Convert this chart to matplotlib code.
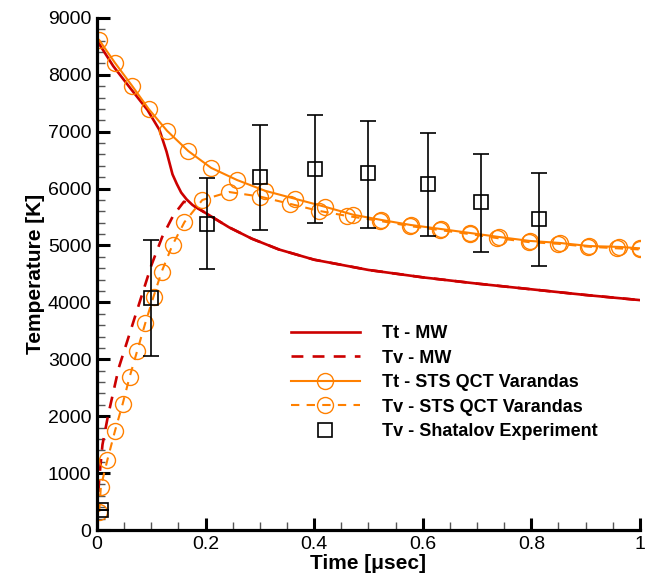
import numpy as np
import matplotlib.pyplot as plt
from matplotlib.lines import Line2D

plt.rcParams['font.family'] = ['Liberation Sans', 'DejaVu Sans']

#------------------------------------------------------------
# Tt - MW (red solid)
t_tt_mw = [0.0, 0.03, 0.06, 0.093, 0.115, 0.128, 0.139, 0.147, 0.155, 0.165, 0.176, 0.207,
           0.243, 0.285, 0.335, 0.4, 0.5, 0.6, 0.7, 0.8, 0.9, 1.0]
T_tt_mw = [8600, 8150, 7780, 7380, 7030, 6650, 6250, 6080, 5930, 5810, 5710, 5530,
           5320, 5120, 4930, 4750, 4570, 4440, 4330, 4230, 4130, 4040]

# Tv - MW (red dashed)
t_tv_mw = [0.0, 0.004, 0.01, 0.02, 0.04, 0.06, 0.08, 0.1, 0.12, 0.14, 0.16, 0.176,
           0.207, 0.243, 0.285, 0.335, 0.4, 0.5, 0.6, 0.7, 0.8, 0.9, 1.0]
T_tv_mw = [300, 900, 1500, 2000, 2850, 3450, 4050, 4650, 5150, 5520, 5770, 5710,
           5530, 5320, 5120, 4930, 4750, 4570, 4440, 4330, 4230, 4130, 4040]

# Tt - STS QCT Varandas (orange solid, circles)
t_tt_sts = [0.004, 0.033, 0.065, 0.095, 0.129, 0.168, 0.21, 0.258, 0.31, 0.365,
            0.42, 0.472, 0.523, 0.578, 0.633, 0.687, 0.74, 0.797, 0.852, 0.907, 0.962, 1.0]
T_tt_sts = [8610, 8210, 7800, 7400, 7015, 6660, 6365, 6150, 5960, 5820,
            5680, 5540, 5450, 5360, 5290, 5220, 5150, 5080, 5045, 4990, 4975, 4950]

# Tv - STS QCT Varandas (orange dashed, circles)
t_tv_sts = [0.004, 0.007, 0.019, 0.033, 0.047, 0.06, 0.074, 0.089, 0.104, 0.119, 0.139,
            0.161, 0.194, 0.243, 0.30, 0.356, 0.408, 0.46, 0.522, 0.577, 0.632, 0.687,
            0.737, 0.795, 0.849, 0.904, 0.958, 1.0]
T_tv_sts = [320, 760, 1230, 1740, 2210, 2690, 3150, 3640, 4100, 4540, 5010,
            5410, 5800, 5940, 5860, 5730, 5610, 5520, 5430, 5340, 5270, 5200,
            5130, 5060, 5030, 4980, 4950, 4930]

# Tv - Shatalov Experiment
t_exp = [0.008, 0.1, 0.203, 0.30, 0.402, 0.50, 0.61, 0.707, 0.815]
T_exp = [350, 4070, 5380, 6210, 6350, 6275, 6080, 5765, 5465]
T_exp_hi = [350, 5100, 6190, 7120, 7300, 7190, 6980, 6610, 6275]
T_exp_lo = [350, 3050, 4590, 5275, 5400, 5310, 5170, 4890, 4640]

red = '#CC0000'
orange = '#FF8000'

#------------------------------------------------------------
fig = plt.figure(figsize=(6.47, 5.80), dpi=100)
ax = fig.add_axes([0.150, 0.0862, 0.839, 0.883])

ax.plot(t_tt_mw, T_tt_mw, color=red, lw=1.9)
ax.plot(t_tv_mw, T_tv_mw, color=red, lw=1.9, dashes=(4.5, 3.5))
ax.plot(t_tt_sts, T_tt_sts, color=orange, lw=1.5, marker='o', ms=11.5,
        mfc='none', mec=orange, mew=1.0)
ax.plot(t_tv_sts, T_tv_sts, color=orange, lw=1.5, dashes=(4, 3.5), marker='o', ms=11.5,
        mfc='none', mec=orange, mew=1.0)

err = [np.array(T_exp) - np.array(T_exp_lo), np.array(T_exp_hi) - np.array(T_exp)]
ax.errorbar(t_exp, T_exp, yerr=err, fmt='none', ecolor='black', elinewidth=1.2,
            capsize=5.5, capthick=1.2)
ax.plot(t_exp, T_exp, ls='none', marker='s', ms=10, mfc='none', mec='black', mew=1.2)

ax.set_xlim(0, 1)
ax.set_ylim(0, 9000)
ax.set_xticks([0, 0.2, 0.4, 0.6, 0.8, 1.0])
ax.set_xticklabels(['0', '0.2', '0.4', '0.6', '0.8', '1'])
ax.set_yticks(np.arange(0, 9001, 1000))
ax.set_xticks(np.arange(0, 1.0001, 0.05), minor=True)
ax.set_yticks(np.arange(0, 9001, 200), minor=True)

for s in ['top', 'right']:
    ax.spines[s].set_visible(False)
for s in ['left', 'bottom']:
    ax.spines[s].set_linewidth(2.3)
ax.tick_params(which='major', direction='in', length=9, width=2.2, labelsize=14, pad=4)
ax.tick_params(which='minor', direction='in', length=6, width=1.0, color='#555555')

ax.set_xlabel('Time [\u03bcsec]', fontsize=15, fontweight='bold', labelpad=1)
ax.set_ylabel('Temperature [K]', fontsize=15, fontweight='bold', labelpad=2)

handles = [
    Line2D([], [], color=red, lw=1.9),
    Line2D([], [], color=red, lw=1.9, dashes=(4.5, 3.5)),
    Line2D([], [], color=orange, lw=1.5, marker='o', ms=11.5, mfc='none', mec=orange),
    Line2D([], [], color=orange, lw=1.5, dashes=(4, 3.5), marker='o', ms=11.5, mfc='none', mec=orange),
    Line2D([], [], ls='none', marker='s', ms=10, mfc='none', mec='black', mew=1.2),
]
labels = ['Tt - MW', 'Tv - MW', 'Tt - STS QCT Varandas', 'Tv - STS QCT Varandas',
          'Tv - Shatalov Experiment']
leg = fig.legend(handles, labels, loc='upper left', bbox_to_anchor=(282 / 647, 1 - 316 / 580),
                 frameon=False, numpoints=1, handlelength=3.8, handletextpad=1.25,
                 labelspacing=0.42, borderpad=0, prop={'size': 13, 'weight': 'bold'})

plt.savefig('out.png', dpi=100)
